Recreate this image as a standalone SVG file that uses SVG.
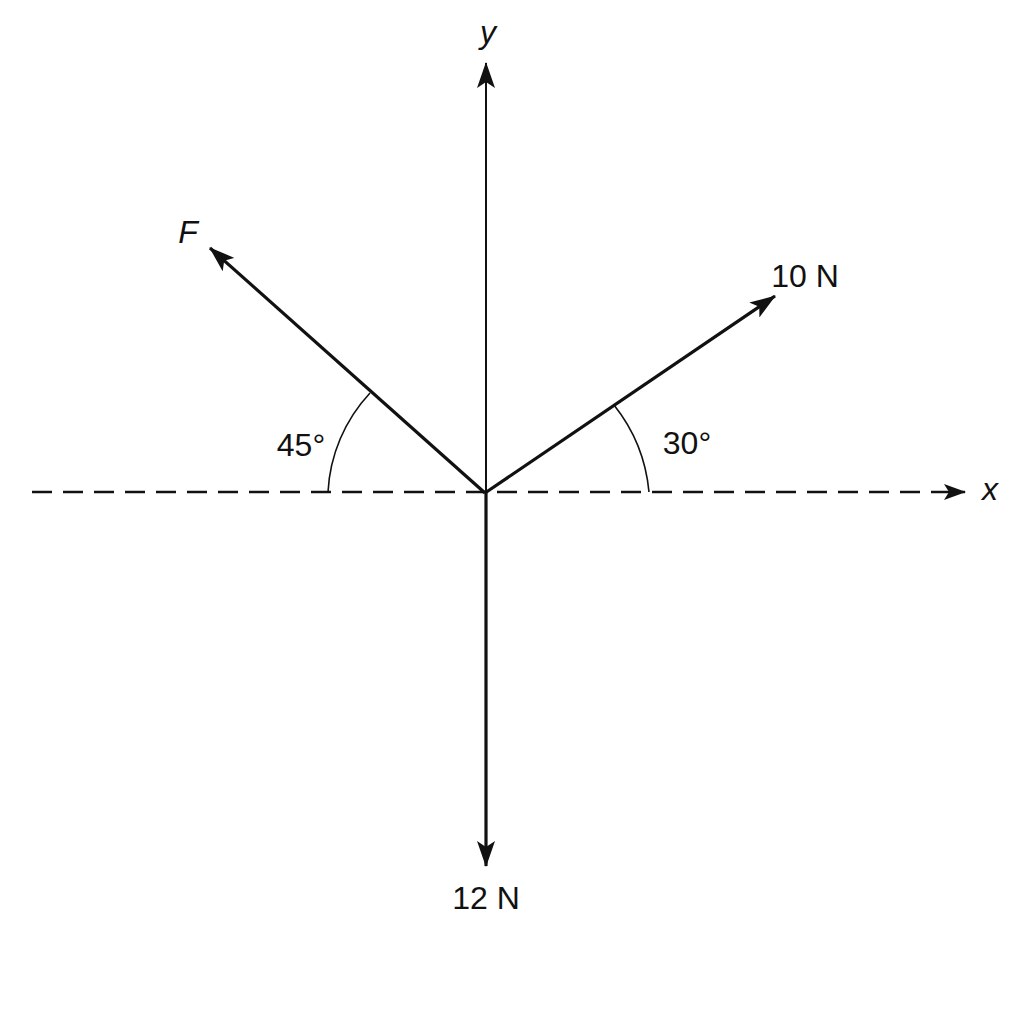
<svg xmlns="http://www.w3.org/2000/svg" width="1024" height="1024" viewBox="0 0 1024 1024">
<style>
text{font-family:"Liberation Sans",Arial,sans-serif;font-size:32px;fill:#111;text-anchor:middle}
.it{font-style:italic}
.f{stroke:#111;stroke-width:3.2;fill:none}
.ax{stroke:#111;stroke-width:2;fill:none}
.arc{stroke:#111;stroke-width:1.6;fill:none}
</style>
<defs>
<marker id="ah" viewBox="0 0 22 16" refX="21" refY="8" markerWidth="22" markerHeight="16" markerUnits="userSpaceOnUse" orient="auto">
<path d="M0,0 L22,8 L0,16 L5,8 Z" fill="#111"/>
</marker>
<marker id="ah2" viewBox="0 0 26 18" refX="25" refY="9" markerWidth="26" markerHeight="18" markerUnits="userSpaceOnUse" orient="auto">
<path d="M0,0 L26,9 L0,18 L6,9 Z" fill="#111"/>
</marker>
</defs>
<rect width="1024" height="1024" fill="#fff"/>
<g id="connectors">
<line x1="32" y1="492" x2="965" y2="492" stroke="#111" stroke-width="2.5" stroke-dasharray="20 11" marker-end="url(#ah)"/>
<line x1="486" y1="492" x2="486" y2="63" class="ax" marker-end="url(#ah2)"/>
<line x1="486" y1="493" x2="486" y2="866" class="f" marker-end="url(#ah2)"/>
<line x1="485" y1="493" x2="210" y2="248" class="f" marker-end="url(#ah2)"/>
<line x1="485" y1="493" x2="775" y2="296" class="f" marker-end="url(#ah2)"/>
<path class="arc" d="M328,492 A157,157 0 0 1 370,393"/>
<path class="arc" d="M649,492 A164,164 0 0 0 614,405"/>
</g>
<g id="label-y"><text class="it" x="488" y="43">y</text></g>
<g id="label-x"><text class="it" x="990" y="500">x</text></g>
<g id="label-F"><text class="it" x="188" y="243">F</text></g>
<g id="label-10N"><text x="805" y="287">10 N</text></g>
<g id="label-12N"><text x="486" y="909">12 N</text></g>
<g id="label-45"><text x="301" y="456">45°</text></g>
<g id="label-30"><text x="687" y="454">30°</text></g>
</svg>
